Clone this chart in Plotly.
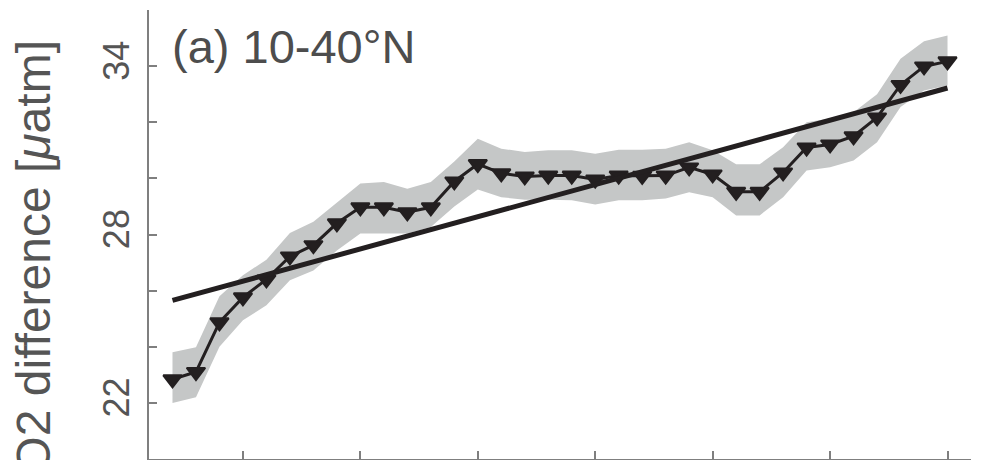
import plotly.graph_objects as go

years = list(range(1982, 2016))
pco2_diff = [22.84, 23.10, 24.87, 25.76, 26.40, 27.22, 27.62, 28.40, 28.97, 28.97,
             28.79, 28.97, 29.89, 30.51, 30.18, 30.07, 30.10, 30.10, 29.96, 30.10,
             30.09, 30.10, 30.39, 30.14, 29.52, 29.52, 30.21, 31.10, 31.21, 31.50,
             32.17, 33.33, 33.99, 34.17]
band_upper = [23.80, 23.98, 25.80, 26.55, 27.10, 28.05, 28.45, 29.15, 29.82, 29.87,
              29.63, 29.87, 30.60, 31.41, 31.06, 30.94, 31.00, 31.00, 30.88, 31.02,
              31.02, 31.06, 31.29, 31.00, 30.50, 30.50, 31.11, 32.00, 32.13, 32.36,
              33.00, 34.26, 34.89, 35.09]
band_lower = [22.00, 22.20, 24.00, 24.94, 25.48, 26.37, 26.72, 27.43, 28.04, 28.05,
              28.04, 28.27, 29.00, 29.60, 29.33, 29.24, 29.24, 29.22, 29.07, 29.22,
              29.22, 29.28, 29.51, 29.33, 28.68, 28.68, 29.33, 30.28, 30.40, 30.64,
              31.29, 32.54, 33.13, 33.31]
trend_years = [1982, 2015]
trend_vals = [25.65, 33.22]

y_tickvals = [20, 22, 24, 26, 28, 30, 32, 34, 36]
y_ticktext = ["", "22", "", "", "28", "", "", "34", ""]
x_tickvals = [1985, 1990, 1995, 2000, 2005, 2010, 2015]

ink = "#231f20"
band_col = "#c5c7c7"
axis_col = "#7f7f7f"
text_col = "#555555"
font_fam = "Liberation Sans, Arial, Helvetica, sans-serif"

fig = go.Figure()
fig.add_trace(go.Scatter(
    x=years + years[::-1], y=band_upper + band_lower[::-1],
    fill="toself", fillcolor=band_col, line=dict(width=0), mode="lines",
    hoverinfo="skip", showlegend=False))
fig.add_trace(go.Scatter(
    x=years, y=pco2_diff, mode="lines+markers",
    line=dict(color=ink, width=3),
    marker=dict(symbol="triangle-down", size=16, color=ink, line=dict(color=ink, width=2)),
    showlegend=False))
fig.add_trace(go.Scatter(
    x=trend_years, y=trend_vals, mode="lines",
    line=dict(color=ink, width=5), showlegend=False))

fig.update_layout(
    width=989, height=460,
    margin=dict(l=149, r=18, t=10, b=1, autoexpand=False),
    paper_bgcolor="white", plot_bgcolor="white",
    font=dict(family=font_fam, color=text_col),
    showlegend=False,
)
fig.update_xaxes(range=[1981, 2016], tickvals=x_tickvals, ticks="inside", ticklen=8,
                 tickwidth=1.5, tickcolor=axis_col, showline=True, linecolor=axis_col,
                 linewidth=1.5, showgrid=False, zeroline=False, showticklabels=False,
                 automargin=False)
fig.update_yaxes(range=[20, 36], tickvals=y_tickvals, ticktext=y_ticktext, ticks="inside",
                 ticklen=8, tickwidth=1.5, tickcolor=axis_col, showline=True,
                 linecolor=axis_col, linewidth=1.5, showgrid=False, zeroline=False,
                 tickangle=-90, ticklabelstandoff=4,
                 tickfont=dict(size=36, color=text_col, family=font_fam),
                 automargin=False)

fig.add_annotation(text="pCO2 difference [<i>μ</i>atm]", xref="paper", yref="paper",
                   x=(33 - 149) / 822, y=(459 - 288) / 449, xanchor="center", yanchor="middle",
                   textangle=-90, showarrow=False,
                   font=dict(size=48, color=text_col, family=font_fam))
fig.add_annotation(text="(a) 10-40°N", xref="paper", yref="paper",
                   x=(170 - 149) / 822, y=(459 - 47) / 449, xanchor="left", yanchor="middle",
                   showarrow=False, font=dict(size=47, color="#4d4d4d", family=font_fam))

fig.write_html("out.html", post_script="document.body.style.margin='0';",
               config={"displayModeBar": False})
